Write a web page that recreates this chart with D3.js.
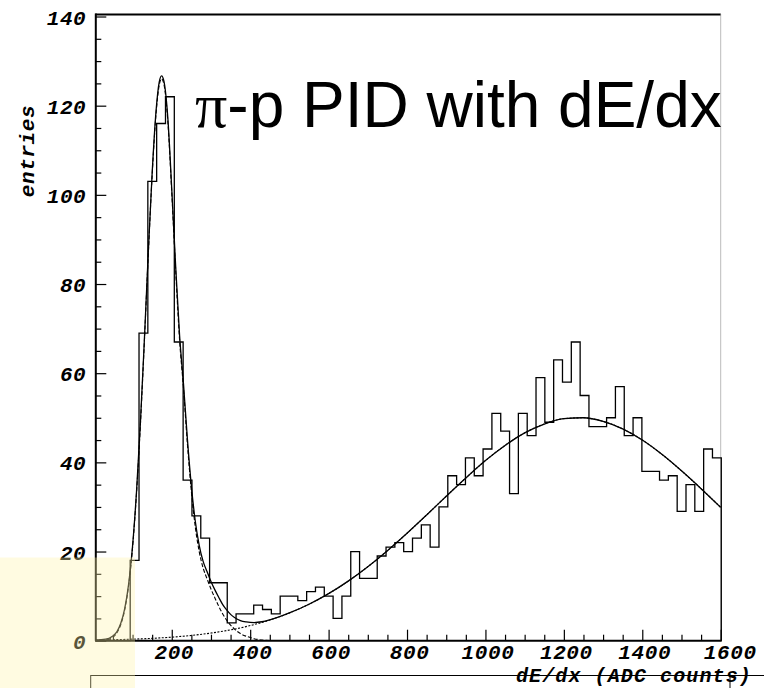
<!DOCTYPE html>
<html>
<head>
<meta charset="utf-8">
<script src="https://cdn.jsdelivr.net/npm/d3@7"></script>
<style>
  html, body { margin: 0; padding: 0; background: #fff; }
  svg { display: block; }
  .lbl { font-family: "Liberation Mono", "Courier New", monospace; font-weight: bold; font-style: italic; font-size: 21px; letter-spacing: 0.6px; fill: #000; }
  .xtitle { font-size: 20px; letter-spacing: 1.1px; }
</style>
</head>
<body>
<svg id="chart" width="764" height="688"></svg>
<script>
// ---- dE/dx histogram: 71 bins of 22.5 ADC counts starting at 4 ----
const binStart = 4;
const binWidth = 22.5;
const counts = [
  0, 0, 0, 0, 18, 69, 103, 116, 122, 67,
  36, 28, 23, 13, 13, 4, 6, 6, 8, 7,
  6, 10, 10, 9, 11, 12, 10, 5, 10, 20,
  14, 14, 19, 21, 22, 20, 23, 26, 21, 30,
  37, 35, 41, 37, 43, 51, 47, 33, 51, 46,
  59, 49, 63, 58, 67, 55, 48, 48, 50, 57,
  46, 50, 38, 38, 36, 37, 29, 35, 29, 43,
  41
];

// ---- axis ticks ----
const xDomain = [5, 1600];
const yDomain = [0, 140.45];
const xMajorTicks = [200, 400, 600, 800, 1000, 1200, 1400, 1600];
const xMinorTicks = [50, 100, 150, 250, 300, 350, 450, 500, 550, 650, 700, 750,
  850, 900, 950, 1050, 1100, 1150, 1250, 1300, 1350, 1450, 1500, 1550];
const yMajorTicks = [0, 20, 40, 60, 80, 100, 120, 140];
const yMinorTicks = [5, 10, 15, 25, 30, 35, 45, 50, 55, 65, 70, 75, 85, 90, 95,
  105, 110, 115, 125, 130, 135];

// ---- fit components, sampled ----
// pion peak (dashed)
const pionX = [5, 20, 40, 60, 70, 80, 90, 100, 110, 120, 130, 140, 150, 160, 168, 174,
  180, 190, 200, 210, 220, 230, 240, 250, 260, 270, 280, 290, 300, 310, 320, 330,
  340, 350, 360, 375, 390, 400, 410, 430, 450];
const pionY = [0.01, 0.05, 0.35, 1.76, 3.6, 6.9, 12.4, 20.9, 32.9, 48.4, 66.8, 86.4,
  104.4, 118.3, 124.6, 126.0, 124.8, 116.4, 100.5, 83.0, 67.4, 56.5, 44.0, 33.5,
  25.5, 20.0, 16.3, 13.9, 11.6, 9.6, 7.7, 6.0, 4.6, 3.5, 2.6, 1.6, 1.0, 0.7, 0.45,
  0.15, 0.03];
// proton peak (dotted)
const protonX = [5, 50, 100, 150, 200, 250, 300, 350, 400, 450, 500, 550, 600, 650,
  700, 750, 800, 850, 900, 950, 1000, 1050, 1100, 1150, 1200, 1250, 1300, 1350,
  1400, 1450, 1500, 1550, 1600];
const protonY = [0.15, 0.22, 0.35, 0.53, 0.8, 1.18, 1.71, 2.43, 3.39, 4.64, 6.22,
  8.18, 10.55, 13.36, 16.6, 20.2, 24.1, 28.2, 32.4, 36.5, 40.4, 43.8, 46.6, 48.6,
  49.8, 50.0, 49.2, 47.5, 45.0, 41.8, 38.1, 34.1, 29.9];
// total fit (solid)
const totalX = [5, 20, 40, 60, 70, 80, 90, 100, 110, 120, 130, 140, 150, 160, 168, 174,
  180, 190, 200, 210, 220, 230, 240, 250, 260, 270, 280, 290, 300, 310, 320, 330,
  340, 350, 360, 375, 390, 400, 410, 430, 450, 500, 550, 600, 650, 700, 750, 800,
  850, 900, 950, 1000, 1050, 1100, 1150, 1200, 1250, 1300, 1350, 1400, 1450, 1500,
  1550, 1600];
const totalY = [0.16, 0.22, 0.55, 2.0, 3.9, 7.2, 12.7, 21.2, 33.3, 48.8, 67.2, 86.8,
  104.9, 118.9, 125.3, 126.7, 125.5, 117.2, 101.3, 83.9, 68.4, 57.5, 45.1, 34.7,
  26.8, 21.4, 17.8, 15.5, 13.3, 11.4, 9.7, 8.1, 6.9, 5.9, 5.2, 4.5, 4.2, 4.1, 4.07,
  4.25, 4.67, 6.22, 8.18, 10.55, 13.36, 16.6, 20.2, 24.1, 28.2, 32.4, 36.5, 40.4,
  43.8, 46.6, 48.6, 49.8, 50.0, 49.2, 47.5, 45.0, 41.8, 38.1, 34.1, 29.9];

// ---- layout ----
const svg = d3.select("#chart");
const frame = { left: 95.3, right: 720.7, top: 14.5, bottom: 640.7 };

const x = d3.scaleLinear().domain(xDomain).range([frame.left, frame.right]);
const y = d3.scaleLinear().domain(yDomain).range([frame.bottom, frame.top]);

svg.append("defs").append("clipPath").attr("id", "plotClip")
  .append("rect")
  .attr("x", frame.left).attr("y", frame.top - 2)
  .attr("width", frame.right - frame.left + 1.5)
  .attr("height", frame.bottom - frame.top + 4);

// frame: top edge solid, right edge faint dotted
svg.append("line")
  .attr("x1", frame.left).attr("x2", frame.right)
  .attr("y1", frame.top).attr("y2", frame.top)
  .attr("stroke", "#000").attr("stroke-width", 2);
svg.append("line")
  .attr("x1", frame.right).attr("x2", frame.right)
  .attr("y1", frame.top).attr("y2", frame.bottom)
  .attr("stroke", "#777").attr("stroke-width", 1).attr("stroke-dasharray", "1,1");

const plot = svg.append("g").attr("clip-path", "url(#plotClip)");

// histogram outline
const histPts = [[binStart, 0]];
counts.forEach((c, i) => {
  const lo = binStart + i * binWidth;
  histPts.push([lo, c], [lo + binWidth, c]);
});
histPts.push([binStart + counts.length * binWidth, 0]);
plot.append("path")
  .attr("d", d3.line().x(d => x(d[0])).y(d => y(d[1]))(histPts))
  .attr("fill", "none").attr("stroke", "#000").attr("stroke-width", 1.3)
  .attr("stroke-linejoin", "miter");

// fit curves
const curve = d3.line().x(d => x(d[0])).y(d => y(d[1])).curve(d3.curveMonotoneX);
plot.append("path")
  .attr("d", curve(protonX.map((v, i) => [v, protonY[i]])))
  .attr("fill", "none").attr("stroke", "#000").attr("stroke-width", 1.1)
  .attr("stroke-dasharray", "2,1.5");
plot.append("path")
  .attr("d", curve(pionX.map((v, i) => [v, pionY[i]])))
  .attr("fill", "none").attr("stroke", "#000").attr("stroke-width", 1.1)
  .attr("stroke-dasharray", "4,2");
plot.append("path")
  .attr("d", curve(totalX.map((v, i) => [v, totalY[i]])))
  .attr("fill", "none").attr("stroke", "#000").attr("stroke-width", 1.3);

// y axis (ticks pointing inward)
const yAxis = svg.append("g").attr("transform", `translate(${frame.left},0)`)
  .call(d3.axisLeft(y).tickValues(yMajorTicks).tickSize(-11).tickSizeOuter(0)
    .tickPadding(9).tickFormat(d3.format("d")));
yAxis.select(".domain").attr("stroke-width", 2)
  .attr("d", `M0.5,${frame.bottom}V${frame.top - 1}`);
yAxis.selectAll(".tick line").attr("stroke-width", 1.2);
yAxis.selectAll(".tick text").attr("class", "lbl").attr("dy", "0.36em");
svg.append("g").attr("transform", `translate(${frame.left},0)`)
  .call(d3.axisLeft(y).tickValues(yMinorTicks).tickSize(-6).tickFormat(""))
  .call(g => g.select(".domain").remove())
  .selectAll(".tick line").attr("stroke-width", 1.2);

// x axis (ticks pointing inward); the last label is nudged past the frame corner
const xAxis = svg.append("g").attr("transform", `translate(0,${frame.bottom})`)
  .call(d3.axisBottom(x).tickValues(xMajorTicks).tickSize(-11).tickSizeOuter(0)
    .tickPadding(3).tickFormat(d3.format("d")));
xAxis.select(".domain").attr("stroke-width", 2)
  .attr("d", `M${frame.left},0H${frame.right + 1}`);
xAxis.selectAll(".tick text").attr("class", "lbl")
  .attr("dx", d => d === 1600 ? 9 : 2);
xAxis.selectAll(".tick line").attr("stroke-width", 1.2);
svg.append("g").attr("transform", `translate(0,${frame.bottom})`)
  .call(d3.axisBottom(x).tickValues(xMinorTicks).tickSize(-6).tickFormat(""))
  .call(g => g.select(".domain").remove())
  .selectAll(".tick line").attr("stroke-width", 1.2);

// axis titles
svg.append("text").attr("class", "lbl")
  .attr("transform", "translate(34,151) rotate(-90)")
  .attr("text-anchor", "middle")
  .text("entries");

// lower pad outline
svg.append("rect")
  .attr("x", 90.7).attr("y", 675.5).attr("width", 700).attr("height", 40)
  .attr("fill", "none").attr("stroke", "#000").attr("stroke-width", 1);
svg.append("line")
  .attr("x1", 730).attr("x2", 730).attr("y1", 675.5).attr("y2", 688)
  .attr("stroke", "#000").attr("stroke-width", 1);

svg.append("text").attr("class", "lbl xtitle")
  .attr("x", 516).attr("y", 681.5)
  .text("dE/dx (ADC counts)");

// title
const title = svg.append("text").attr("x", 195).attr("y", 127).attr("font-size", 64);
title.append("tspan").attr("font-family", "'Liberation Serif', 'Times New Roman', serif").text("π");
title.append("tspan").attr("font-family", "'Liberation Sans', Arial, sans-serif").text("-p PID with dE/dx");

// pale highlight in the lower-left corner
svg.append("rect")
  .attr("x", 0).attr("y", 557.5).attr("width", 135).attr("height", 131)
  .attr("fill", "#fff4a8").attr("opacity", 0.35);
</script>
</body>
</html>
